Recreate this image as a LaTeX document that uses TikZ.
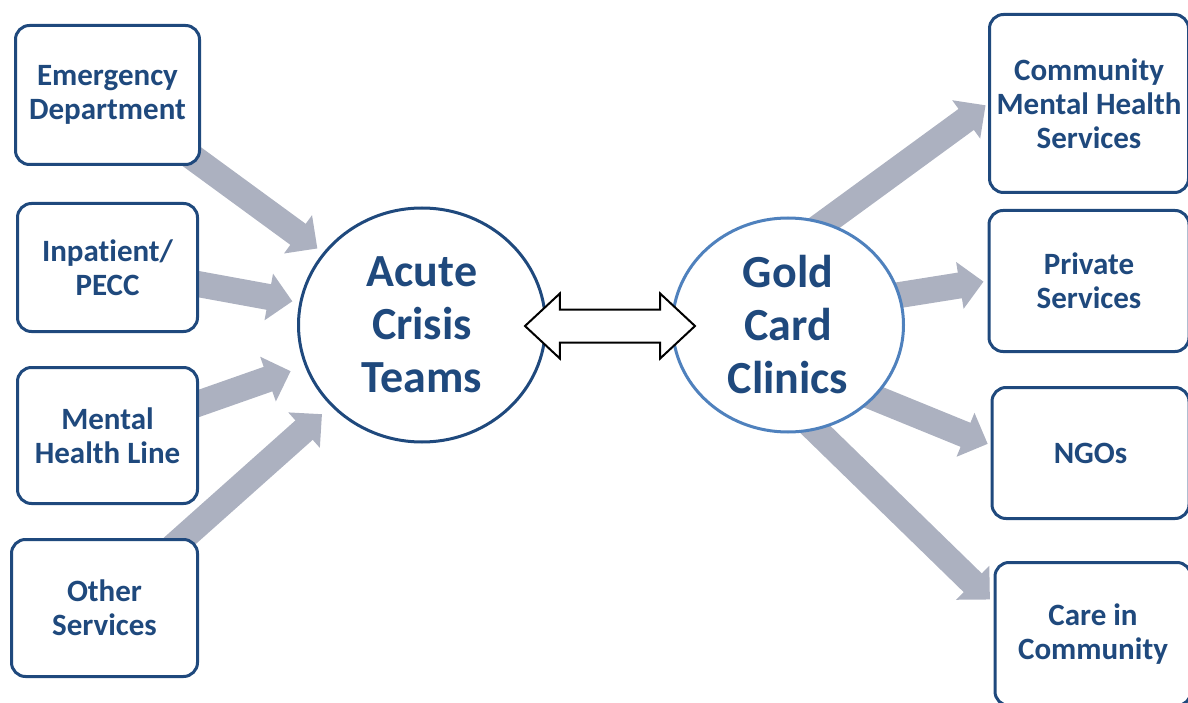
\documentclass[tikz,border=0pt]{standalone}
\usepackage{fontspec}
\setmainfont{Carlito}[Ligatures=NoCommon]
\usetikzlibrary{positioning, shapes.geometric, shapes.arrows, arrows.meta, backgrounds, calc}

\definecolor{navy}{RGB}{31,73,125}
\definecolor{ringblue}{RGB}{79,129,189}
\definecolor{feedgray}{RGB}{172,177,192}

\tikzset{
  service/.style={draw=navy, line width=3pt, rounded corners=14pt, fill=white,
    align=center, text=navy, inner sep=0pt,
    font=\fontsize{31}{34}\selectfont\bfseries},
  hub/.style={ellipse, line width=3pt, fill=white, align=center, text=navy,
    inner sep=0pt, font=\fontsize{46}{53}\selectfont\bfseries},
  feed/.style={draw=feedgray, line width=26pt, -{Triangle[length=24pt, width=46pt]}},
}

\begin{document}
\begin{tikzpicture}[x=1pt, y=1pt]
			\useasboundingbox (0,0) rectangle (1188,-703);

			% referral sources
			\node[service, minimum width=184pt, minimum height=139pt] (ed) at (107.5,-95) {Emergency\\Department};
			\node[service, minimum width=180pt, minimum height=128pt, below=36pt of ed] (ip) {Inpatient/\\PECC};
			\node[service, minimum width=180pt, minimum height=136pt, below=33pt of ip] (mhl) {Mental\\Health Line};
			\node[service, minimum width=186pt, minimum height=137pt, below=33pt of mhl, xshift=-3pt] (os) {Other\\Services};

			% the two hubs
			\node[hub, draw=navy, minimum width=247pt, minimum height=234pt] (act) at (422,-325) {Acute\\Crisis\\Teams};
			\node[hub, draw=ringblue, minimum width=231pt, minimum height=214pt] (gcc) at (788,-325) {Gold\\Card\\Clinics};

			% follow-up services
			\node[service, minimum width=199pt, minimum height=178pt] (cmhs) at (1089,-103.5) {Community\\Mental Health\\Services};
			\node[service, minimum width=200pt, minimum height=141pt, below=15pt of cmhs] (ps) {Private\\Services};
			\node[service, minimum width=197pt, minimum height=131pt, below=33pt of ps, xshift=1.5pt] (ngo) {NGOs};
			\node[service, minimum width=196pt, minimum height=143pt, below=41pt of ngo, xshift=2.5pt] (cic) {Care in\\Community};

			\node[double arrow, draw=black, line width=2pt, fill=white,
				inner xsep=0pt, inner ysep=15.5pt, minimum height=170pt,
				double arrow head extend=16pt, double arrow tip angle=86] (link) at ($(act)!0.5!(gcc)+(5,-1)$) {};

			\coordinate (ngoin) at ([yshift=8pt]ngo.west);
			\coordinate (cicin) at ([yshift=31pt]cic.west);

			\begin{scope}[on background layer]
				\draw[feed, shorten >=7pt] (ed.center) -- (act);
				\draw[feed, shorten >=7pt] (ip.center) -- (act);
				\draw[feed, shorten >=15pt] (mhl.center) -- (act);
				\draw[feed, shorten >=12pt] (os.center) -- (act);

				\draw[feed, shorten <=-20pt, shorten >=3pt] (gcc.70) -- (cmhs.west);
				\draw[feed, shorten <=-20pt, shorten >=4pt] (gcc.15) -- (ps.west);
				\draw[feed, shorten <=-20pt, shorten >=3pt] (gcc.-40) -- (ngoin);
				\draw[feed, shorten <=-20pt, shorten >=5pt] (gcc.-75) -- (cicin);
			\end{scope}
		\end{tikzpicture}
\end{document}
